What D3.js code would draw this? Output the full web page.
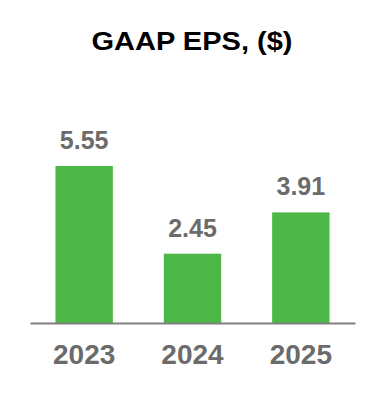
<!DOCTYPE html>
<html>
<head>
<meta charset="utf-8">
<script src="https://cdn.jsdelivr.net/npm/d3@7"></script>
<style>
  body { margin: 0; background: #fff; }
  svg { display: block; font-family: "Liberation Sans", Arial, sans-serif; }
</style>
</head>
<body>
<div id="chart"></div>
<script>
// data
var years = ["2023", "2024", "2025"];
var eps = [5.55, 2.45, 3.91];
var title = "GAAP EPS, ($)";

var width = 384, height = 402;
var baseY = 323;

var svg = d3.select("#chart")
    .append("svg")
    .attr("width", width)
    .attr("height", height);

// title
svg.append("text")
    .attr("x", width / 2)
    .attr("y", 50)
    .attr("text-anchor", "middle")
    .attr("textLength", 201)
    .attr("lengthAdjust", "spacingAndGlyphs")
    .style("font-size", "26px")
    .style("font-weight", "bold")
    .style("fill", "#000")
    .text(title);

var x = d3.scaleBand()
    .domain(years)
    .range([30, 355])
    .paddingInner(0.47)
    .paddingOuter(0.235);

var y = d3.scaleLinear()
    .domain([0, 5.55])
    .range([baseY, 166]);

// bars
svg.selectAll("rect.bar")
    .data(eps)
    .enter()
    .append("rect")
    .attr("class", "bar")
    .attr("x", function (d, i) { return x(years[i]); })
    .attr("y", function (d) { return y(d); })
    .attr("width", x.bandwidth())
    .attr("height", function (d) { return baseY - y(d); })
    .style("fill", "#4db848");

// value labels
svg.selectAll("text.val")
    .data(eps)
    .enter()
    .append("text")
    .attr("class", "val")
    .attr("x", function (d, i) { return x(years[i]) + x.bandwidth() / 2; })
    .attr("y", function (d) { return y(d) - 17; })
    .attr("text-anchor", "middle")
    .style("font-size", "25px")
    .style("font-weight", "bold")
    .style("fill", "#6b6b6b")
    .text(function (d) { return d.toFixed(2); });

// x axis
var xAxis = svg.append("g")
    .attr("transform", "translate(0," + baseY + ")")
    .call(d3.axisBottom(x).tickSize(0).tickPadding(21));
xAxis.select(".domain")
    .attr("stroke", "#808080")
    .attr("stroke-width", 2);
xAxis.selectAll("text")
    .style("font-size", "28px")
    .style("font-weight", "bold")
    .style("fill", "#6b6b6b")
    .style("font-family", "'Liberation Sans', Arial, sans-serif");
</script>
</body>
</html>
